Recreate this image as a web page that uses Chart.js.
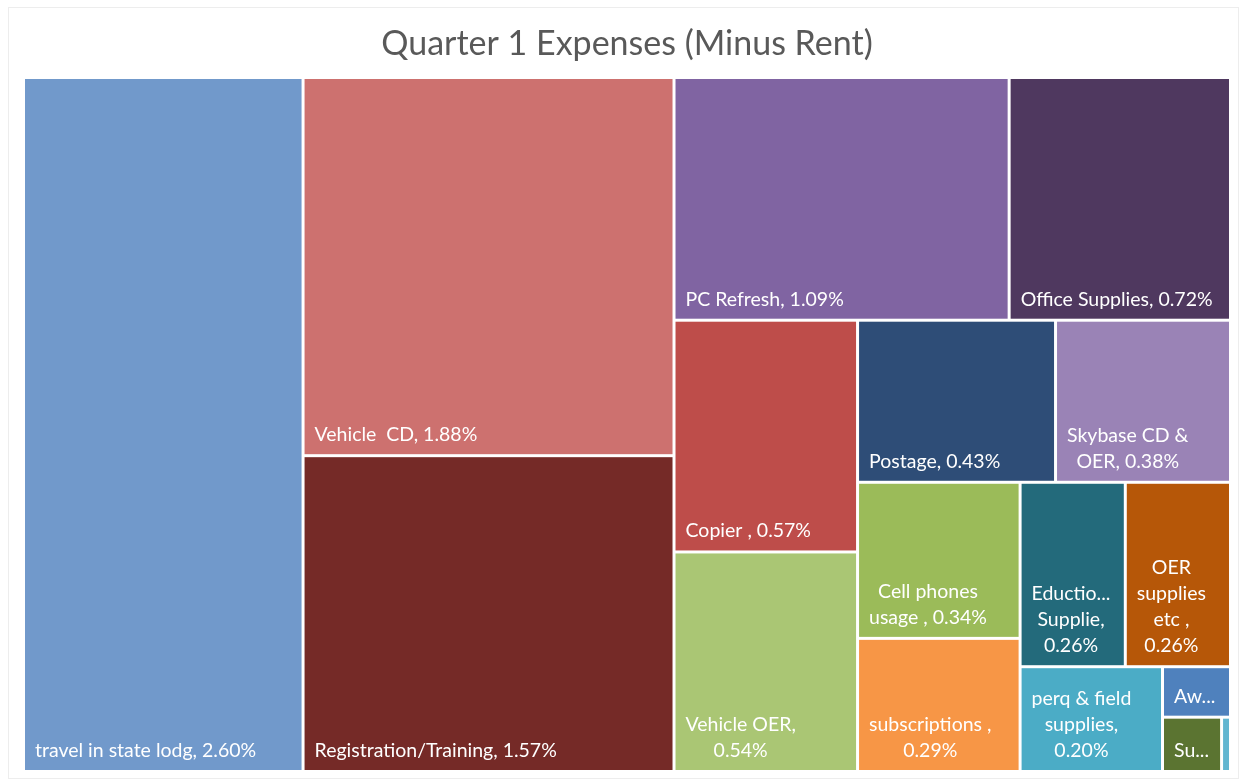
<!DOCTYPE html>
<html>
<head>
<meta charset="utf-8">
<title>Quarter 1 Expenses (Minus Rent)</title>
<script src="https://cdn.jsdelivr.net/npm/chart.js@4.4.1/dist/chart.umd.min.js"></script>
<style>
  html, body { margin: 0; padding: 0; background: #fff; }
  #wrap { position: relative; width: 1241px; height: 780px; }
  #frame { position: absolute; left: 8px; top: 7px; width: 1229px; height: 770px; border: 1px solid #ededed; pointer-events: none; }
</style>
</head>
<body>
<div id="wrap">
  <canvas id="treemap"></canvas>
  <div id="frame"></div>
</div>
<script>
// share of total expenses, in percent
const categories = [
  "travel in state lodg", "Vehicle  CD", "Registration/Training", "PC Refresh",
  "Office Supplies", "Copier ", "Vehicle OER", "Postage", "Skybase CD & OER",
  "Cell phones usage ", "subscriptions ", "Eductional Supplie", "OER supplies etc ",
  "perq & field supplies", "Awards", "Supplies", "Misc"
];
const shares = [
  2.60, 1.88, 1.57, 1.09,
  0.72, 0.57, 0.54, 0.43, 0.38,
  0.34, 0.29, 0.26, 0.26,
  0.20, 0.046, 0.043, 0.0065
];

const cellColors = [
  "#7199CB", "#CD716F", "#752A27", "#8064A2",
  "#4F385F", "#BE4D4A", "#AAC674", "#2E4D77", "#9A83B6",
  "#9BBB59", "#F79646", "#236A7B", "#B65708",
  "#4BACC6", "#4F81BD", "#5B7431", "#62B6D0"
];

const sum = (a) => a.reduce((s, v) => s + v, 0);

function worst(row, side) {
  const s = sum(row);
  const mx = Math.max(...row), mn = Math.min(...row);
  return Math.max(side * side * mx / (s * s), (s * s) / (side * side * mn));
}

// squarified layout, same units as w/h.
// like Excel, the biggest item gets a strip of its own
function squarify(areas, x, y, w, h) {
  const out = [];
  let i = 0;
  while (i < areas.length) {
    const side = Math.min(w, h);
    const row = [areas[i]];
    let j = i + 1;
    while (i > 0 && j < areas.length && worst(row.concat(areas[j]), side) <= worst(row, side)) {
      row.push(areas[j]);
      j++;
    }
    const s = sum(row);
    if (w >= h) {
      const cw = s / h;
      let cy = y;
      row.forEach((a) => { const ch = a / cw; out.push({ x, y: cy, w: cw, h: ch }); cy += ch; });
      x += cw; w -= cw;
    } else {
      const rh = s / w;
      let cx = x;
      row.forEach((a) => { const rw = a / rh; out.push({ x: cx, y, w: rw, h: rh }); cx += rw; });
      y += rh; h -= rh;
    }
    i = j;
  }
  return out;
}

const GAP = 3;
const PAD = 10;
const LINE_H = 26;
const LABEL_FONT = "19.5px Lato";

function fitWord(ctx, word, maxW) {
  if (ctx.measureText(word).width <= maxW) return word;
  let s = word;
  while (s.length > 1 && ctx.measureText(s + "...").width > maxW) s = s.slice(0, -1);
  return ctx.measureText(s + "...").width <= maxW ? s + "..." : "";
}

function wrapLabel(ctx, text, maxW, maxLines) {
  if (ctx.measureText(text).width <= maxW) return [text];
  const words = text.split(" ");
  const lines = [];
  let cur = "";
  words.forEach((wd) => {
    const test = cur ? cur + " " + wd : wd;
    if (cur && ctx.measureText(test).width <= maxW) {
      cur = test;
    } else {
      if (cur) lines.push(cur);
      cur = fitWord(ctx, wd, maxW);
    }
  });
  if (cur) lines.push(cur);
  if (lines.length > maxLines) {
    const kept = lines.slice(0, maxLines);
    const last = kept[kept.length - 1];
    if (!last.endsWith("...")) kept[kept.length - 1] = fitWord(ctx, last + "          ", maxW).replace(/ +\.\.\.$/, "...");
    return kept;
  }
  return lines;
}

const treemapPlugin = {
  id: "treemapCells",
  afterDatasetsDraw(chart) {
    const { ctx, chartArea } = chart;
    const xs = chart.scales.x, ys = chart.scales.y;
    const W = chartArea.right - chartArea.left;
    const H = chartArea.bottom - chartArea.top;
    const total = sum(shares);
    const rects = squarify(shares.map((v) => v / total * W * H), 0, 0, W, H);

    ctx.save();
    rects.forEach((r, i) => {
      const x0 = xs.getPixelForValue(r.x / W * 100);
      const x1 = xs.getPixelForValue((r.x + r.w) / W * 100);
      const y0 = ys.getPixelForValue(r.y / H * 100);
      const y1 = ys.getPixelForValue((r.y + r.h) / H * 100);
      const left = x0 + GAP / 2, top = y0 + GAP / 2;
      const cw = x1 - x0 - GAP, ch = y1 - y0 - GAP;
      if (cw <= 0 || ch <= 0) return;
      ctx.fillStyle = cellColors[i];
      ctx.fillRect(left, top, cw, ch);

      const maxW = cw - 2 * PAD;
      if (maxW < 12) return;
      ctx.font = LABEL_FONT;
      const text = categories[i] + ", " + shares[i].toFixed(2) + "%";
      const maxLines = Math.max(1, Math.floor((ch - 10) / LINE_H));
      const lines = wrapLabel(ctx, text, maxW, maxLines).filter((l) => l);
      if (!lines.length) return;
      const blockW = Math.max(...lines.map((l) => ctx.measureText(l).width));
      ctx.fillStyle = "#ffffff";
      ctx.textAlign = "center";
      ctx.textBaseline = "alphabetic";
      const cx = left + PAD + blockW / 2;
      const baseY = top + ch - 13;
      lines.forEach((l, k) => {
        ctx.fillText(l, cx, baseY - (lines.length - 1 - k) * LINE_H);
      });
    });
    ctx.restore();
  }
};

new Chart(document.getElementById("treemap"), {
  type: "scatter",
  data: { datasets: [{ label: "Expenses", data: [], pointRadius: 0 }] },
  options: {
    responsive: true,
    maintainAspectRatio: false,
    animation: false,
    layout: { padding: { left: 23.5, right: 10.5, top: 5.5, bottom: 8.5 } },
    scales: {
      x: { type: "linear", min: 0, max: 100, display: false },
      y: { type: "linear", min: 0, max: 100, reverse: true, display: false }
    },
    plugins: {
      legend: { display: false },
      tooltip: { enabled: false },
      title: {
        display: true,
        text: "Quarter 1 Expenses (Minus Rent)",
        color: "#595959",
        font: { family: "Lato", size: 34, weight: "normal", lineHeight: 1.2 },
        padding: { top: 18, bottom: 13.2 }
      }
    }
  },
  plugins: [treemapPlugin]
});
</script>
</body>
</html>
